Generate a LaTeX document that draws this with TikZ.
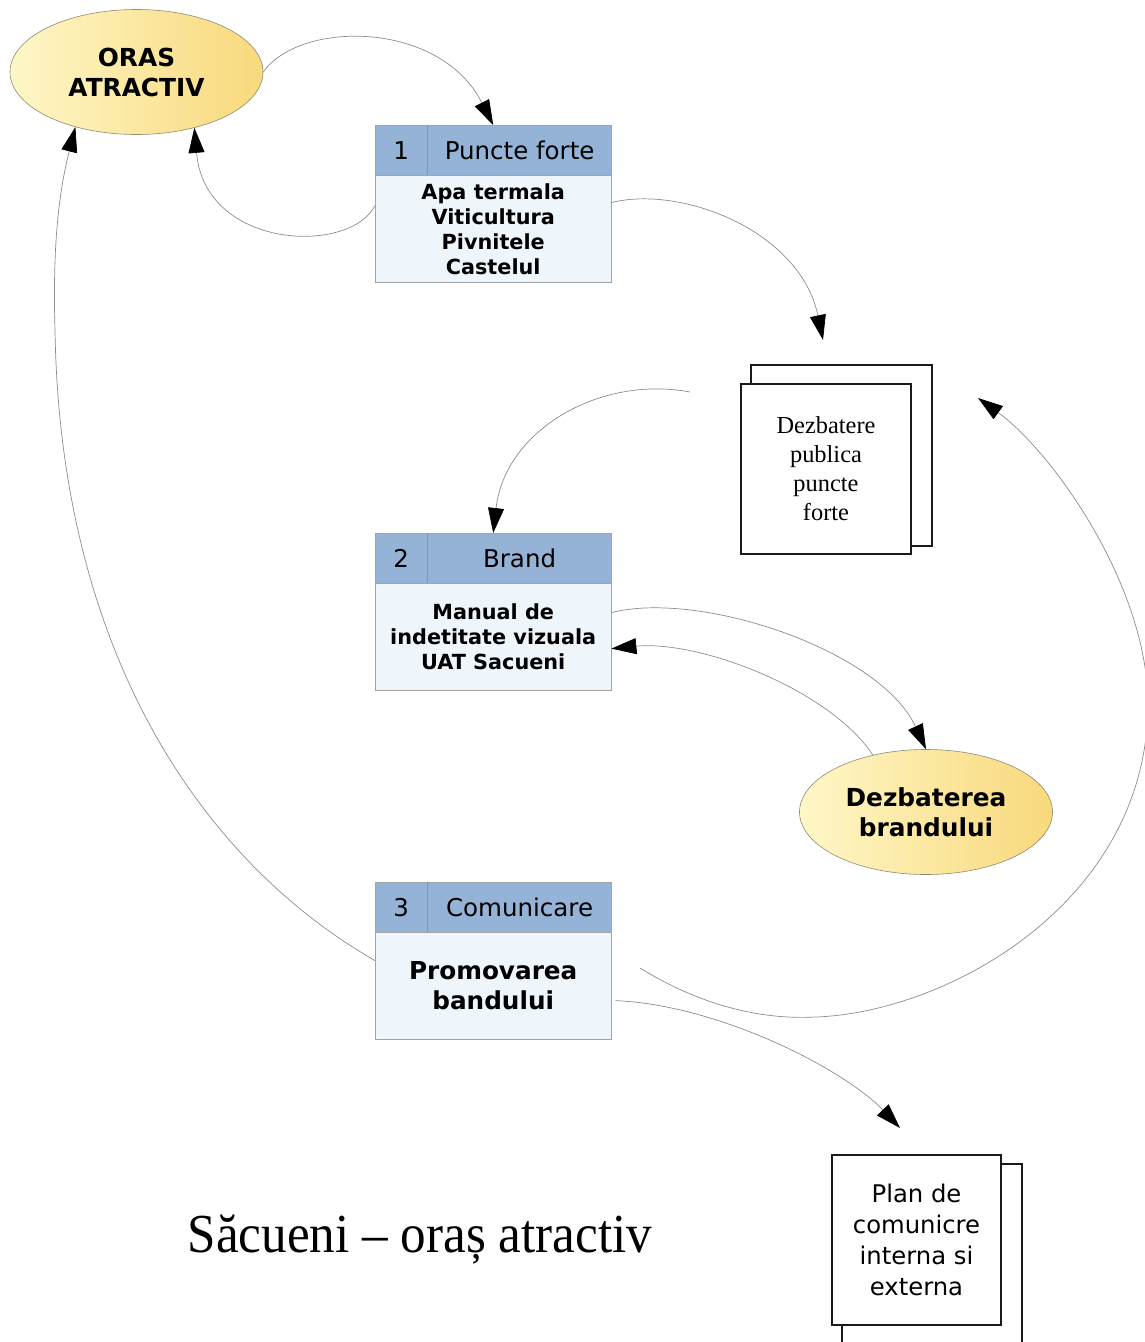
\documentclass[tikz,border=0pt]{standalone}
\usepackage{fontspec}
\setmainfont{DejaVu Sans}
\newfontfamily\docserif{Liberation Serif}
\newfontfamily\titlefont[FakeStretch=0.93]{Liberation Serif}
\usetikzlibrary{arrows.meta,shapes.geometric,calc}
\definecolor{hdrc}{HTML}{95B3D7}
\definecolor{hdrline}{HTML}{7E97B8}
\definecolor{bodyc}{HTML}{EFF6FB}
\definecolor{boxline}{HTML}{A3A3A3}
\definecolor{ylight}{HTML}{FFF7C8}
\definecolor{ydark}{HTML}{F8D97C}
\definecolor{ellline}{HTML}{8E8A70}
\definecolor{connc}{HTML}{8C8C8C}
\definecolor{docline}{HTML}{1A1A1A}
\begin{document}
\begin{tikzpicture}[x=1pt,y=-1pt,
  numcell/.style={draw=boxline, fill=hdrc, minimum width=52pt, minimum height=50pt, inner sep=0pt, anchor=north west, font=\fontsize{24.5}{30}\selectfont},
  titlecell/.style={draw=boxline, fill=hdrc, minimum width=184pt, minimum height=50pt, inner sep=0pt, anchor=north west, font=\fontsize{24.5}{30}\selectfont},
  bodycell/.style={draw=boxline, fill=bodyc, minimum width=236pt, minimum height=107pt, inner sep=0pt, anchor=north west, align=center},
  goal/.style={ellipse, draw=ellline, line width=0.6pt, left color=ylight, right color=ydark, minimum width=253pt, minimum height=125pt, inner sep=0pt, align=center, font=\bfseries\fontsize{24.8}{30}\selectfont},
  docfront/.style={draw=docline, line width=1.8pt, fill=white, minimum width=170pt, minimum height=170pt, inner sep=0pt, align=center},
  docback/.style={draw=docline, line width=1.8pt, fill=white},
  conn/.style={draw=connc, line width=0.7pt, -{Triangle[length=25pt,width=16pt,color=black]}},
  plainconn/.style={draw=connc, line width=0.7pt}
]
\useasboundingbox (0,0) rectangle (1144,1342);

% goal ellipses
\node[goal] (oras) at (136.5,72) {ORAS\\ATRACTIV};
\node[goal] (dez) at (926,812) {Dezbaterea\\brandului};

% box 1
\node[numcell] (b1n) at (375,125) {1};
\node[titlecell] (b1t) at (b1n.north east) {Puncte forte};
\node[bodycell, font=\bfseries\fontsize{20.8}{25}\selectfont] (b1) at (b1n.south west) {Apa termala\\Viticultura\\Pivnitele\\Castelul};
\draw[hdrline, line width=0.8pt] (b1n.north east) -- (b1n.south east);

% box 2
\node[numcell] (b2n) at (375,533) {2};
\node[titlecell] (b2t) at (b2n.north east) {Brand};
\node[bodycell, font=\bfseries\fontsize{20.8}{25}\selectfont] (b2) at (b2n.south west) {Manual de\\indetitate vizuala\\UAT Sacueni};
\draw[hdrline, line width=0.8pt] (b2n.north east) -- (b2n.south east);

% box 3
\node[numcell] (b3n) at (375,882) {3};
\node[titlecell] (b3t) at (b3n.north east) {Comunicare};
\node[bodycell, font=\bfseries\fontsize{24.7}{30}\selectfont] (b3) at (b3n.south west) {Promovarea\\bandului};
\draw[hdrline, line width=0.8pt] (b3n.north east) -- (b3n.south east);

% document 1
\draw[docback] (751,365) rectangle (932,546);
\node[docfront, font=\docserif\fontsize{24.4}{29}\selectfont] (doc1) at (826,469) {Dezbatere\\publica\\puncte\\forte};

% document 2
\draw[docback] (842,1164) rectangle (1022,1370);
\node[docfront, minimum width=169pt, font=\fontsize{24.3}{31}\selectfont] (doc2) at (916.5,1240) {Plan de\\comunicre\\interna si\\externa};

% title
\node[anchor=base, inner sep=0pt, font=\titlefont\fontsize{55}{60}\selectfont] (title) at (420,1252) {Săcueni – oraș atractiv};

% free connector ends
\coordinate (c3end) at (823,340);
\coordinate (c4start) at (690,392);
\coordinate (c8start) at (640,968);
\coordinate (c8end) at (978,398);
\coordinate (c9end) at (900,1128);

% connectors
\draw[conn] (oras.east) .. controls (300,20) and (440,20) .. (b1.north |- b1t.north);
\draw[conn] ([yshift=23.5pt]b1.west) .. controls (350,255) and (205,250) .. (oras.-44);
\draw[conn] ([yshift=26.5pt]b1.east) .. controls (680,185) and (800,230) .. (c3end);
\draw[conn] (c4start) .. controls (600,375) and (505,430) .. (b2.north |- b2t.north);
\draw[conn] ([yshift=24.5pt]b2.east) .. controls (700,590) and (880,650) .. (dez.north);
\draw[conn] (dez.133) .. controls (830,690) and (700,640) .. ([yshift=-11.5pt]b2.east);
\draw[conn] ([yshift=25.5pt]b3.west) .. controls (200,860) and (60,650) .. (55,330) .. controls (52,230) and (62,180) .. (oras.-138);
\draw[conn] (c8start) .. controls (700,1005) and (760,1020) .. (816,1017) .. controls (950,1012) and (1150,900) .. (1148,700) .. controls (1145,580) and (1050,450) .. (c8end);
\draw[conn] ([xshift=4pt,yshift=-14.5pt]b3.east) .. controls (720,1005) and (845,1070) .. (c9end);
\end{tikzpicture}
\end{document}
